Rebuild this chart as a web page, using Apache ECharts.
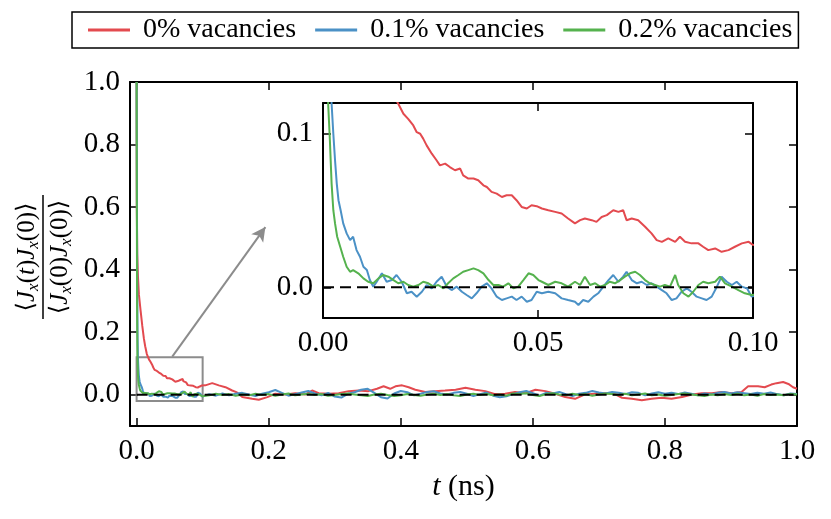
<!DOCTYPE html>
<html>
<head>
<meta charset="utf-8">
<script src="https://cdn.jsdelivr.net/npm/echarts@6/dist/echarts.min.js"></script>
<style>
  html, body { margin: 0; padding: 0; background: #fff; }
  #chart { width: 831px; height: 519px; }
</style>
</head>
<body>
<div id="chart"></div>
<script>
var FONT = 'Liberation Serif';

// legend names
var names = ['0% vacancies', '0.1% vacancies', '0.2% vacancies'];
var colors = ['#e34a4f', '#4b91c6', '#55b24e'];

// tick values
var mainXTicks = [0, 0.2, 0.4, 0.6, 0.8, 1.0];
var mainYTicks = [0, 0.2, 0.4, 0.6, 0.8, 1.0];
var insetXTicks = [0, 0.05, 0.1];
var insetYTicks = [0, 0.1];

// [t (ns), <Jx(t)Jx(0)>/<Jx(0)Jx(0)>]
var redData = [
  [0, 1.0], [0.0003, 0.6], [0.001, 0.45], [0.002, 0.38], [0.0035, 0.32], [0.006, 0.27],
  [0.0086, 0.22], [0.011, 0.18], [0.013, 0.155], [0.0155, 0.13],
  [0.0175, 0.1195], [0.0187, 0.113], [0.0198, 0.1097], [0.021, 0.1054], [0.0218, 0.101],
  [0.0226, 0.100], [0.0233, 0.0968], [0.0241, 0.0924], [0.0253, 0.087], [0.0264, 0.0827],
  [0.0272, 0.0794], [0.0284, 0.0805], [0.0295, 0.0783], [0.0307, 0.0762], [0.0319, 0.0773],
  [0.0326, 0.0729], [0.0338, 0.0708], [0.035, 0.0708], [0.0361, 0.0697], [0.0373, 0.0664],
  [0.0381, 0.0653], [0.0392, 0.0621], [0.0404, 0.061], [0.0416, 0.0588], [0.0427, 0.0599],
  [0.0439, 0.0599], [0.045, 0.0567], [0.0462, 0.0523], [0.0474, 0.0513], [0.0485, 0.0534],
  [0.0497, 0.0528], [0.0509, 0.0513], [0.0524, 0.0502], [0.054, 0.0491], [0.0555, 0.048],
  [0.057, 0.0448], [0.0586, 0.0416], [0.0598, 0.0437], [0.0609, 0.0448], [0.0625, 0.0437],
  [0.0636, 0.0426], [0.0648, 0.0458], [0.066, 0.047], [0.0675, 0.0502], [0.0687, 0.0491],
  [0.0698, 0.0502], [0.0706, 0.0437], [0.0718, 0.0448], [0.0733, 0.0437], [0.0749, 0.0394],
  [0.0764, 0.0351], [0.0776, 0.0307], [0.0788, 0.0296], [0.0803, 0.0318], [0.0819, 0.0296],
  [0.083, 0.0329], [0.0842, 0.0296], [0.0857, 0.0286], [0.0873, 0.0286], [0.0884, 0.0264],
  [0.0896, 0.0242], [0.0912, 0.0253], [0.0927, 0.0231], [0.0943, 0.0242], [0.0958, 0.0264],
  [0.0974, 0.0286], [0.099, 0.0296], [0.1, 0.0275],
  [0.104, 0.030], [0.1145, 0.037], [0.1245, 0.030], [0.1346, 0.024], [0.1447, 0.0135],
  [0.152, 0.0075], [0.160, -0.0076], [0.175, -0.013], [0.185, -0.016], [0.198, -0.0076],
  [0.210, 0.0031], [0.2254, 0.0009], [0.2405, 0.005], [0.2557, 0.0009], [0.2658, 0.0135],
  [0.2758, 0.005], [0.291, 0.003], [0.306, 0.005], [0.321, 0.0115], [0.336, 0.0135],
  [0.351, 0.0115], [0.364, 0.019], [0.374, 0.027], [0.384, 0.019], [0.392, 0.027],
  [0.402, 0.030], [0.412, 0.024], [0.422, 0.016], [0.437, 0.0085], [0.452, 0.0115],
  [0.467, 0.0135], [0.483, 0.016], [0.498, 0.022], [0.513, 0.016], [0.528, 0.0115],
  [0.543, 0.002], [0.558, 0.003], [0.573, 0.0085], [0.589, 0.005], [0.604, 0.016],
  [0.619, 0.0115], [0.634, 0.003], [0.649, -0.0076], [0.664, -0.013], [0.679, 0.0009],
  [0.694, 0.003], [0.710, 0.005], [0.725, 0.0009], [0.735, -0.0097], [0.75, -0.013],
  [0.765, -0.018], [0.78, -0.013], [0.795, -0.0097], [0.81, -0.013], [0.826, -0.0076],
  [0.841, 0.0009], [0.856, 0.005], [0.871, 0.005], [0.886, 0.0085], [0.901, 0.005],
  [0.916, 0.0085], [0.926, 0.027], [0.941, 0.027], [0.951, 0.024], [0.961, 0.0325],
  [0.969, 0.037], [0.979, 0.0405], [0.987, 0.0345], [0.994, 0.024], [1.0, 0.019]
];

var blueData = [
  [0, 1.0], [0.0005, 0.62], [0.001, 0.32], [0.0015, 0.18], [0.002, 0.1195], [0.0024, 0.10],
  [0.0028, 0.0827], [0.0032, 0.0675], [0.0036, 0.0567], [0.0041, 0.0502], [0.0047, 0.0416],
  [0.0055, 0.0351], [0.0063, 0.0307], [0.007, 0.0329], [0.0078, 0.0242], [0.0086, 0.0199],
  [0.0094, 0.0134], [0.0102, 0.0112], [0.0109, 0.0047], [0.0117, 0.0004], [0.0125, 0.0036],
  [0.0137, 0.0091], [0.0148, 0.0036], [0.016, 0.0047], [0.0171, 0.008], [0.0183, 0.0036],
  [0.0195, -0.0039], [0.0206, -0.0029], [0.0218, -0.0061], [0.023, -0.0029], [0.0241, 0.0015],
  [0.0253, -0.0007], [0.0264, 0.0036], [0.0276, 0.0069], [0.0288, 0.0004], [0.0299, -0.0018],
  [0.0311, 0.0004], [0.0323, -0.0029], [0.0334, -0.005], [0.0346, -0.0072], [0.0357, -0.0039],
  [0.0369, 0.0004], [0.0381, 0.0026], [0.0392, -0.0007], [0.0404, -0.0061], [0.0416, -0.0083],
  [0.0427, -0.0072], [0.0439, -0.0061], [0.045, -0.0083], [0.0462, -0.0061], [0.0474, -0.0094],
  [0.0485, -0.0083], [0.0497, -0.0029], [0.0509, -0.0039], [0.0524, -0.0029], [0.054, -0.0039],
  [0.0555, -0.0072], [0.057, -0.0083], [0.0586, -0.0094], [0.0594, -0.0115], [0.0605, -0.0083],
  [0.0617, -0.0094], [0.0629, -0.0061], [0.064, -0.0039], [0.0652, 0.0004], [0.0664, 0.0047],
  [0.0675, 0.008], [0.0687, 0.0036], [0.0698, 0.0069], [0.0706, 0.0101], [0.0718, 0.0047],
  [0.073, 0.0026], [0.0741, 0.0036], [0.0753, 0.0015], [0.0764, 0.0026], [0.0776, 0.0004],
  [0.0788, -0.0018], [0.0799, -0.0039], [0.0811, -0.0083], [0.0822, -0.0072], [0.0834, -0.0029],
  [0.0846, -0.0007], [0.0857, -0.0029], [0.0869, -0.0061], [0.0881, -0.0072], [0.0892, -0.0083],
  [0.0904, -0.0061], [0.0916, 0.0004], [0.0927, 0.0069], [0.0939, 0.0036], [0.0951, 0.0015],
  [0.0962, 0.0036], [0.0974, 0.0004], [0.0986, -0.0007], [0.0997, -0.0061],
  [0.11, 0.002], [0.12, -0.003], [0.13, 0.004], [0.14, -0.002], [0.15, 0.003], [0.16, 0.006],
  [0.17, 0.001], [0.18, -0.004], [0.19, 0.003], [0.20, 0.008], [0.21, 0.015], [0.22, 0.006],
  [0.23, -0.003], [0.24, 0.002], [0.25, 0.007], [0.26, 0.012], [0.27, 0.004], [0.28, -0.002],
  [0.29, 0.006], [0.30, -0.006], [0.31, -0.009], [0.32, 0.003], [0.33, 0.008], [0.34, 0.016],
  [0.35, 0.019], [0.36, 0.006], [0.37, -0.008], [0.38, -0.012], [0.39, 0.004], [0.40, 0.012],
  [0.41, 0.008], [0.42, -0.002], [0.43, 0.003], [0.44, 0.009], [0.45, 0.011], [0.46, 0.004],
  [0.47, 0.001], [0.48, 0.006], [0.49, 0.009], [0.50, 0.003], [0.51, -0.004], [0.52, 0.002],
  [0.53, 0.007], [0.54, -0.003], [0.55, -0.008], [0.56, -0.005], [0.57, 0.002], [0.58, 0.008],
  [0.59, 0.012], [0.60, 0.005], [0.61, -0.003], [0.62, 0.006], [0.63, 0.004], [0.64, 0.009],
  [0.65, 0.002], [0.66, -0.004], [0.67, 0.003], [0.68, 0.006], [0.69, 0.012], [0.70, 0.007],
  [0.71, 0.004], [0.72, 0.009], [0.73, 0.006], [0.74, 0.002], [0.75, 0.008], [0.76, 0.006],
  [0.77, -0.002], [0.78, 0.004], [0.79, 0.008], [0.80, 0.003], [0.81, 0.006], [0.82, 0.002],
  [0.83, 0.007], [0.84, 0.003], [0.85, -0.002], [0.86, 0.004], [0.87, 0.001], [0.88, 0.006],
  [0.89, 0.009], [0.90, 0.004], [0.91, 0.008], [0.92, 0.005], [0.93, 0.002], [0.94, 0.006],
  [0.95, 0.003], [0.96, 0.007], [0.97, 0.002], [0.98, -0.002], [0.99, 0.004], [1.0, 0.002]
];

var greenData = [
  [0, 1.0], [0.0004, 0.55], [0.0008, 0.25], [0.0012, 0.1195], [0.0016, 0.0957], [0.002, 0.0675],
  [0.0024, 0.0502], [0.0028, 0.0416], [0.0033, 0.0329], [0.004, 0.0264], [0.0047, 0.0199],
  [0.0055, 0.0134], [0.0063, 0.0101], [0.007, 0.0112], [0.0082, 0.0091], [0.0094, 0.0058],
  [0.0105, 0.0036], [0.0117, 0.0026], [0.0129, 0.0058], [0.014, 0.008], [0.0152, 0.0069],
  [0.0164, 0.0047], [0.0175, 0.0026], [0.0187, 0.0036], [0.0198, 0.0015], [0.021, 0.0004],
  [0.0222, 0.0015], [0.0233, 0.0036], [0.0245, 0.0026], [0.0257, 0.0004], [0.0268, 0.0015],
  [0.028, -0.0007], [0.0291, 0.0026], [0.0303, 0.0058], [0.0315, 0.008], [0.0326, 0.0101],
  [0.0338, 0.0112], [0.035, 0.0123], [0.0361, 0.0112], [0.0373, 0.0091], [0.0385, 0.0047],
  [0.0396, 0.0015], [0.0408, 0.0015], [0.0419, 0.0004], [0.0431, 0.0026], [0.0443, -0.0007],
  [0.0454, 0.0004], [0.0466, 0.0047], [0.0478, 0.0091], [0.0489, 0.008], [0.0501, 0.0047],
  [0.0509, 0.0036], [0.0524, 0.0015], [0.054, 0.0036], [0.0555, 0.0026], [0.057, 0.0004],
  [0.0586, 0.0036], [0.0598, 0.0015], [0.0609, 0.0069], [0.0621, 0.0015], [0.0633, 0.0026],
  [0.0644, 0.0004], [0.0656, 0.0015], [0.0667, 0.0036], [0.0679, 0.0026], [0.0691, 0.0047],
  [0.0702, 0.0069], [0.0714, 0.0091], [0.0726, 0.0101], [0.0737, 0.008], [0.0749, 0.0047],
  [0.076, 0.0026], [0.0772, 0.0015], [0.0784, 0.0004], [0.0795, 0.0015], [0.0807, 0.0004],
  [0.0819, 0.008], [0.0826, 0.0015], [0.0838, -0.0039], [0.085, -0.0061], [0.0861, -0.0029],
  [0.0873, 0.0015], [0.0884, 0.0036], [0.0896, 0.0026], [0.0912, 0.0036], [0.0923, 0.0069],
  [0.0935, 0.0026], [0.0951, 0.0004], [0.0966, -0.0018], [0.0981, -0.0039], [0.0997, -0.005],
  [0.11, -0.002], [0.12, 0.003], [0.13, -0.001], [0.14, 0.002], [0.15, -0.003], [0.16, 0.001],
  [0.17, -0.002], [0.18, 0.003], [0.19, -0.001], [0.20, 0.002], [0.21, -0.003], [0.22, 0.001],
  [0.23, 0.004], [0.24, -0.002], [0.25, 0.001], [0.26, 0.003], [0.27, -0.001], [0.28, 0.002],
  [0.29, -0.003], [0.30, -0.001], [0.31, 0.002], [0.32, 0.004], [0.33, 0.001], [0.34, -0.002],
  [0.35, -0.004], [0.36, 0.001], [0.37, 0.003], [0.38, -0.001], [0.39, -0.004], [0.40, -0.002],
  [0.41, 0.002], [0.42, -0.001], [0.43, -0.003], [0.44, 0.001], [0.45, 0.003], [0.46, -0.001],
  [0.47, 0.002], [0.48, -0.002], [0.49, -0.004], [0.50, 0.001], [0.51, 0.003], [0.52, -0.001],
  [0.53, 0.002], [0.54, -0.002], [0.55, 0.001], [0.56, -0.003], [0.57, 0.004], [0.58, 0.002],
  [0.59, 0.005], [0.60, -0.001], [0.61, -0.004], [0.62, 0.002], [0.63, 0.005], [0.64, 0.001],
  [0.65, -0.002], [0.66, 0.003], [0.67, -0.001], [0.68, 0.002], [0.69, -0.003], [0.70, 0.001],
  [0.71, 0.004], [0.72, 0.002], [0.73, -0.001], [0.74, 0.003], [0.75, -0.002], [0.76, 0.001],
  [0.77, 0.004], [0.78, -0.002], [0.79, 0.001], [0.80, -0.003], [0.81, -0.001], [0.82, 0.002],
  [0.83, 0.004], [0.84, 0.001], [0.85, -0.002], [0.86, -0.004], [0.87, 0.001], [0.88, -0.002],
  [0.89, 0.002], [0.90, -0.001], [0.91, 0.003], [0.92, -0.002], [0.93, 0.001], [0.94, -0.003],
  [0.95, 0.002], [0.96, -0.001], [0.97, 0.001], [0.98, -0.002], [0.99, 0.002], [1.0, 0.001]
];

var zeroLine = [[0, 0], [1.0, 0]];

// zoom box on the main axes and the arrow pointing to the inset
var zoomBox = [[0, -0.02], [0.1, 0.12]];
var arrowFrom = [0.054, 0.122];
var arrowTo = [0.195, 0.536];

var myChart = echarts.init(document.getElementById('chart'));

function axisX(grid, pos, min, max, ticks, digits, showLabel) {
  return {
    type: 'value', gridIndex: grid, position: pos, min: min, max: max,
    axisLine: {onZero: false, lineStyle: {color: '#000', width: 2}},
    axisTick: {inside: true, length: 8, customValues: ticks, lineStyle: {color: '#000', width: 1.5}},
    axisLabel: {
      show: showLabel, customValues: ticks, margin: 11,
      formatter: function (v) { return v.toFixed(digits); },
      fontFamily: FONT, fontSize: 29, color: '#000'
    },
    splitLine: {show: false}
  };
}
function axisY(grid, pos, min, max, ticks, digits, showLabel) {
  var a = axisX(grid, pos, min, max, ticks, digits, showLabel);
  a.axisLabel.margin = 10;
  return a;
}

var xMain = axisX(0, 'bottom', -0.01, 1.0, mainXTicks, 1, true);
xMain.name = '{i|t} (ns)';
xMain.nameLocation = 'middle';
xMain.nameGap = 46;
xMain.nameTextStyle = {
  fontFamily: FONT, fontSize: 30, color: '#000',
  rich: {i: {fontFamily: FONT, fontSize: 30, fontStyle: 'italic', color: '#000'}}
};

var fracRich = {
  n: {fontFamily: FONT, fontSize: 25, color: '#000', lineHeight: 30, verticalAlign: 'middle'},
  i: {fontFamily: FONT, fontSize: 25, fontStyle: 'italic', color: '#000', lineHeight: 30, verticalAlign: 'middle'},
  s: {fontFamily: FONT, fontSize: 17, fontStyle: 'italic', color: '#000', lineHeight: 17, verticalAlign: 'bottom'},
  b: {fontFamily: 'DejaVu Serif', fontSize: 24, color: '#000', lineHeight: 30, verticalAlign: 'middle'}
};

function lineSeries(name, data, color, xi, yi) {
  return {
    name: name, type: 'line', data: data, xAxisIndex: xi, yAxisIndex: yi,
    symbol: 'none', showSymbol: false, z: 2,
    lineStyle: {color: color, width: 2},
    itemStyle: {color: color}
  };
}
function dashedZero(xi, yi) {
  return {
    type: 'line', data: zeroLine, xAxisIndex: xi, yAxisIndex: yi,
    symbol: 'none', showSymbol: false, z: 5, silent: true,
    lineStyle: {color: '#000', width: 2, type: [11, 6]}
  };
}

var mainZero = dashedZero(0, 0);
mainZero.markArea = {
  silent: true,
  itemStyle: {color: 'rgba(0,0,0,0)', borderColor: '#8c8c8c', borderWidth: 2},
  data: [[{coord: zoomBox[0]}, {coord: zoomBox[1]}]]
};
mainZero.markLine = {
  silent: true,
  symbol: ['none', 'arrow'],
  symbolSize: [11, 14],
  label: {show: false},
  lineStyle: {color: '#8c8c8c', width: 2, type: 'solid'},
  data: [[{coord: arrowFrom}, {coord: arrowTo}]]
};

var option = {
  animation: false,
  backgroundColor: '#fff',
  color: colors,
  legend: {
    data: names,
    icon: 'rect',
    left: 72, top: 12,
    itemWidth: 42, itemHeight: 3, itemGap: 19,
    padding: [3, 6, 3, 16],
    borderColor: '#000', borderWidth: 1.5,
    textStyle: {fontFamily: FONT, fontSize: 28, color: '#000', lineHeight: 30, padding: [0, 0, 0, 8]}
  },
  grid: [
    {left: 130, right: 34, top: 82, bottom: 93},
    {left: 323, right: 78, top: 103, bottom: 201, show: true, backgroundColor: '#fff', borderWidth: 0}
  ],
  xAxis: [
    xMain,
    axisX(0, 'top', -0.01, 1.0, mainXTicks, 1, false),
    axisX(1, 'bottom', 0, 0.1, insetXTicks, 2, true),
    axisX(1, 'top', 0, 0.1, insetXTicks, 2, false)
  ],
  yAxis: [
    axisY(0, 'left', -0.1, 1.0, mainYTicks, 1, true),
    axisY(0, 'right', -0.1, 1.0, mainYTicks, 1, false),
    axisY(1, 'left', -0.02, 0.12, insetYTicks, 1, true),
    axisY(1, 'right', -0.02, 0.12, insetYTicks, 1, false)
  ],
  graphic: [{
    type: 'group', x: 43, y: 257, rotation: Math.PI / 2,
    children: [
      {type: 'text', x: 0, y: -16, style: {
        text: '{b|⟨}{i|J}{s|x}{n|(}{i|t}{n|)}{i|J}{s|x}{n|(0)}{b|⟩}',
        rich: fracRich, align: 'center', verticalAlign: 'middle'}},
      {type: 'line', shape: {x1: -62, y1: 0, x2: 62, y2: 0}, style: {stroke: '#000', lineWidth: 1.5}},
      {type: 'text', x: 0, y: 17, style: {
        text: '{b|⟨}{i|J}{s|x}{n|(0)}{i|J}{s|x}{n|(0)}{b|⟩}',
        rich: fracRich, align: 'center', verticalAlign: 'middle'}}
    ]
  }],
  series: [
    lineSeries(names[0], redData, colors[0], 0, 0),
    lineSeries(names[1], blueData, colors[1], 0, 0),
    lineSeries(names[2], greenData, colors[2], 0, 0),
    mainZero,
    lineSeries(names[0], redData, colors[0], 2, 2),
    lineSeries(names[1], blueData, colors[1], 2, 2),
    lineSeries(names[2], greenData, colors[2], 2, 2),
    dashedZero(2, 2)
  ]
};

myChart.setOption(option);
</script>
</body>
</html>
